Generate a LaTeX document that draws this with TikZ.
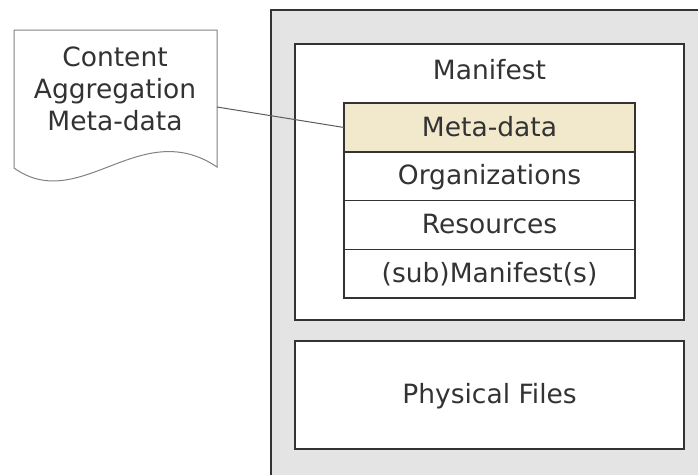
\documentclass[tikz,border=0pt]{standalone}
\usepackage{fontspec}
\setmainfont{DejaVu Sans}
\usetikzlibrary{positioning}
\definecolor{pkggray}{RGB}{228,228,228}
\definecolor{metafill}{RGB}{242,233,205}
\definecolor{inkgray}{RGB}{51,51,51}
\definecolor{docgray}{RGB}{130,130,130}

\begin{document}
\begin{tikzpicture}[x=1pt,y=-1pt,
    every node/.style={font=\fontsize{26.5}{32}\selectfont,text=inkgray},
    frame/.style={draw=inkgray,line width=1.3pt,fill=white,inner sep=0pt,outer sep=0pt},
    row/.style={frame,minimum width=291pt,minimum height=48.75pt,text height=21pt,text depth=4pt}]
    \useasboundingbox (0,0) rectangle (698,474);
    \clip (0,0) rectangle (698,474);
    \fill[white] (0,0) rectangle (698,474);

    % package
    \node[frame,fill=pkggray,minimum width=450pt,minimum height=500pt] (pkg) at (496,260) {};
    \node[frame,minimum width=389pt,minimum height=276pt] (manifest) at (489.5,182) {};
    \node[anchor=base] (mlabel) at (489.5,79) {Manifest};
    \node[frame,minimum width=389pt,minimum height=108pt,text height=21pt,text depth=4pt] (files) at (489.5,395) {Physical Files};

    % manifest parts
    \node[row,fill=metafill] (meta) at (489.5,127.5) {Meta-data};
    \node[row,below=0pt of meta] (org) {Organizations};
    \node[row,below=0pt of org] (res) {Resources};
    \node[row,below=0pt of res] (subm) {(sub)Manifest(s)};

    % document
    \draw[draw=docgray,line width=1pt,fill=white] (14,30) -- (217,30) -- (217,167)
        .. controls (140,115) and (80,215) .. (14,168) -- cycle;
    \node[align=center] (doc) at (115,89) {Content\\Aggregation\\Meta-data};
    \coordinate (docR) at (217,107);
    \draw[draw=inkgray!80,line width=1pt] (docR) -- (meta.west);
\end{tikzpicture}
\end{document}
